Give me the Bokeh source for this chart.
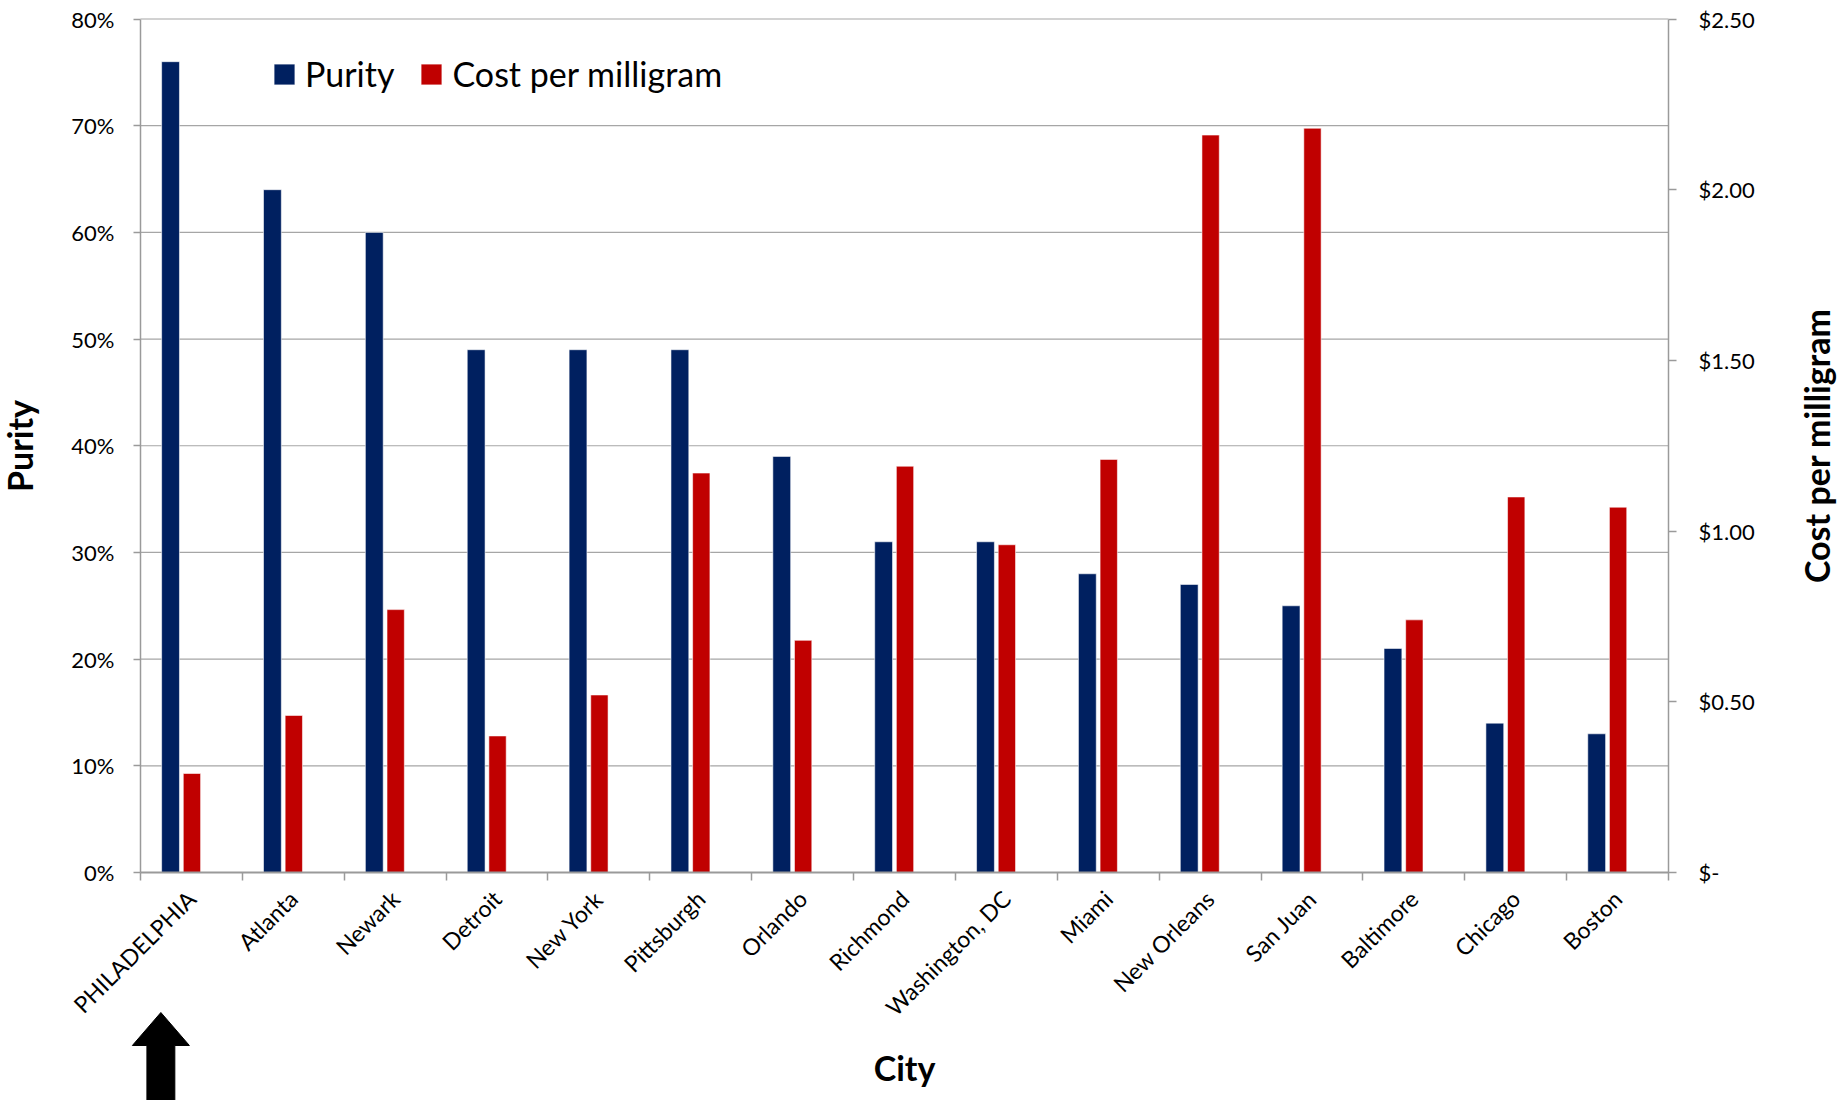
import math
from bokeh.plotting import figure
from bokeh.models import (Range1d, LinearAxis, FixedTicker, NumeralTickFormatter,
                          Legend, LegendItem, PolyAnnotation, ColumnDataSource, Label)
from bokeh.transform import dodge
from bokeh.embed import file_html
from bokeh.resources import INLINE

# ---- data ----
cities = ["PHILADELPHIA", "Atlanta", "Newark", "Detroit", "New York", "Pittsburgh",
          "Orlando", "Richmond", "Washington, DC", "Miami", "New Orleans", "San Juan",
          "Baltimore", "Chicago", "Boston"]
purity = [0.76, 0.64, 0.60, 0.49, 0.49, 0.49, 0.39, 0.31, 0.31, 0.28, 0.27, 0.25, 0.21, 0.14, 0.13]
cost = [0.29, 0.46, 0.77, 0.40, 0.52, 1.17, 0.68, 1.19, 0.96, 1.21, 2.16, 2.18, 0.74, 1.10, 1.07]
purity_ticks = [0.0, 0.1, 0.2, 0.3, 0.4, 0.5, 0.6, 0.7, 0.8]
cost_ticks = [0.0, 0.5, 1.0, 1.5, 2.0, 2.5]
highlight = "PHILADELPHIA"

FONT = "Lato"
BLUE = "#002060"
RED = "#C00000"
GRID = "#A6A6A6"
AXIS = "#9A9A9A"

# ---- layout (pixels of the plotting area inside the page) ----
W, H = 1845, 1100
FL, FR, FT, FB = 140, 1668, 18.5, 872

n = len(cities)
pmax = purity_ticks[-1]
cmax = cost_ticks[-1]
xspan = FR - FL
yspan = FB - FT
x_range = Range1d(-FL / xspan * n, n + (W - FR) / xspan * n)
y_range = Range1d(-(H - FB) / yspan * pmax, pmax + FT / yspan * pmax)
cost_range = Range1d(-(H - FB) / yspan * cmax, cmax + FT / yspan * cmax)

pos = [i + 0.5 for i in range(n)]
src = ColumnDataSource(dict(x=pos, city=cities, purity=purity, cost=cost))

p = figure(width=W, height=H, output_backend="svg", toolbar_location=None,
           x_range=x_range, y_range=y_range, min_border=0,
           min_border_left=0, min_border_right=0, min_border_top=0, min_border_bottom=0)
p.outline_line_color = None
p.background_fill_color = "white"
p.border_fill_color = "white"
p.extra_y_ranges = {"cost": cost_range}

# horizontal gridlines, limited to the category span
p.xgrid.grid_line_color = None
p.ygrid.grid_line_color = None
p.segment(x0=[0] * len(purity_ticks), x1=[n] * len(purity_ticks),
          y0=purity_ticks, y1=purity_ticks, line_color=GRID, line_width=1.2)

# bars
b1 = p.vbar(x=dodge("x", -0.205, range=p.x_range), top="purity", width=0.175, source=src,
            fill_color=BLUE, line_color="white", line_width=0.8, line_alpha=0.7)
b2 = p.vbar(x=dodge("x", 0.005, range=p.x_range), top="cost", width=0.17, source=src,
            y_range_name="cost", fill_color=RED, line_color="white", line_width=0.8,
            line_alpha=0.7)

# bottom axis (category axis)
xa = p.xaxis[0]
xa.fixed_location = 0
xa.bounds = (0, n)
xa.ticker = FixedTicker(ticks=pos, minor_ticks=list(range(n + 1)))
xa.major_label_overrides = {x: c for x, c in zip(pos, cities)}
xa.major_tick_line_color = None
xa.major_tick_out = 0
xa.major_tick_in = 0
xa.minor_tick_out = 8
xa.minor_tick_in = 0
xa.minor_tick_line_color = AXIS
xa.minor_tick_line_width = 1.5
xa.axis_line_color = AXIS
xa.axis_line_width = 2
xa.major_label_orientation = math.pi / 4
xa.major_label_standoff = 14
xa.major_label_text_font = FONT
xa.major_label_text_font_size = "23px"
xa.major_label_text_color = "black"
xa.axis_label = "City"
xa.axis_label_text_font = FONT
xa.axis_label_text_font_style = "bold"
xa.axis_label_text_font_size = "34px"
xa.axis_label_text_color = "black"
xa.axis_label_standoff = 13

# left axis
ya = p.yaxis[0]
ya.fixed_location = 0
ya.bounds = (0, pmax)
ya.ticker = FixedTicker(ticks=purity_ticks)
ya.formatter = NumeralTickFormatter(format="0%")
ya.major_tick_out = 7
ya.major_tick_in = 0
ya.minor_tick_line_color = None
ya.major_tick_line_color = AXIS
ya.major_tick_line_width = 1.5
ya.axis_line_color = AXIS
ya.axis_line_width = 1.5
ya.major_label_standoff = 19
ya.major_label_text_font = FONT
ya.major_label_text_font_size = "22px"
ya.major_label_text_color = "black"
ya.axis_label = "Purity"
ya.axis_label_text_font = FONT
ya.axis_label_text_font_style = "bold"
ya.axis_label_text_font_size = "34px"
ya.axis_label_text_color = "black"
ya.axis_label_standoff = 28

# right axis
ra = LinearAxis(y_range_name="cost", ticker=FixedTicker(ticks=cost_ticks),
                formatter=NumeralTickFormatter(format="$0.00"),
                major_label_overrides={0: "$-"})
ra.fixed_location = n
ra.bounds = (0, cmax)
ra.major_tick_out = 8
ra.major_tick_in = 0
ra.minor_tick_line_color = None
ra.major_tick_line_color = AXIS
ra.major_tick_line_width = 1.5
ra.axis_line_color = AXIS
ra.axis_line_width = 1.5
ra.major_label_standoff = 22
ra.major_label_text_font = FONT
ra.major_label_text_font_size = "22px"
ra.major_label_text_color = "black"
p.add_layout(ra, "right")

# right axis title, reading bottom to top
rtitle = Label(x=n + (1816 - FR) / xspan * n, y=pmax / 2, text="Cost per milligram",
               angle=math.pi / 2, text_align="center", text_baseline="middle",
               text_font=FONT, text_font_style="bold", text_font_size="34px",
               text_color="black")
p.add_layout(rtitle)

# legend
legend = Legend(items=[LegendItem(label="Purity", renderers=[b1]),
                       LegendItem(label="Cost per milligram", renderers=[b2])],
                orientation="horizontal", location=(271, 1006),
                glyph_width=26, glyph_height=26, label_standoff=8, spacing=24,
                label_text_font=FONT, label_text_font_size="34px",
                label_text_color="black", padding=0, margin=0,
                border_line_color=None, background_fill_alpha=0)
p.add_layout(legend)

# arrow pointing at the highlighted city
hx = cities.index(highlight) + 0.5 - 0.3
arrow = PolyAnnotation(xs=[hx - 0.137, hx - 0.137, hx - 0.28, hx, hx + 0.28, hx + 0.137, hx + 0.137],
                       ys=[1100, 1045, 1045, 1012, 1045, 1045, 1100],
                       xs_units="data", ys_units="canvas",
                       fill_color="black", fill_alpha=1, line_color="black", line_alpha=1,
                       level="overlay")
p.add_layout(arrow)

open("out.html", "w").write(file_html(p, INLINE))
